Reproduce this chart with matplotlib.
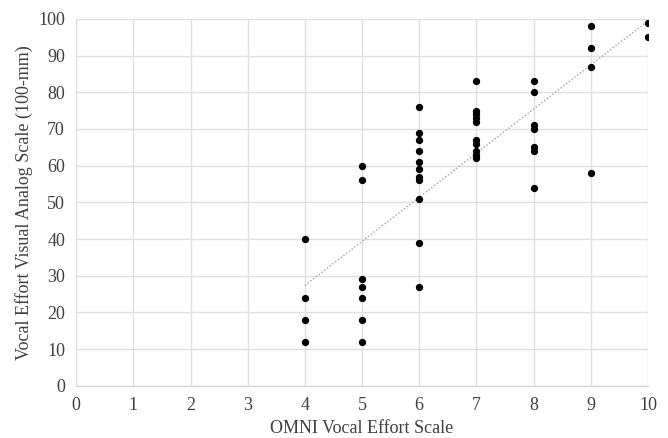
import numpy as np
import matplotlib.pyplot as plt

plt.rcParams['font.family'] = ['Liberation Serif', 'DejaVu Serif']

# OMNI score -> VAS values
omni_4 = [40, 24, 18, 12]
omni_5 = [60, 56, 29, 27, 24, 18, 12]
omni_6 = [76, 69, 67, 64, 61, 59, 57, 56, 51, 39, 27]
omni_7 = [83, 75, 74, 73, 72, 67, 66, 64, 63, 62]
omni_8 = [83, 80, 71, 70, 65, 64, 54]
omni_9 = [98, 92, 87, 58]
omni_10 = [99, 95]

groups = {4: omni_4, 5: omni_5, 6: omni_6, 7: omni_7, 8: omni_8, 9: omni_9, 10: omni_10}
x = np.concatenate([[k] * len(v) for k, v in groups.items()])
y = np.concatenate([v for v in groups.values()])

fig, ax = plt.subplots(figsize=(6.68, 4.38), dpi=100)
fig.subplots_adjust(left=0.114, right=0.970, bottom=0.119, top=0.957)

ax.scatter(x, y, s=18, color='black', zorder=3)

# linear trend line
m, b = np.polyfit(x, y, 1)
xs = np.array([x.min(), x.max()])
ax.plot(xs, m * xs + b, linestyle=(0, (1, 1.5)), color='#a0a0a0', linewidth=1.0, zorder=2)

ax.set_xlim(0, 10)
ax.set_ylim(0, 100)
ax.set_xticks(range(0, 11))
ax.set_yticks(range(0, 101, 10))
ax.grid(True, color='#e0e0e0', linewidth=1.0)
ax.set_axisbelow(True)
for s in ['top', 'right', 'left']:
    ax.spines[s].set_visible(False)
ax.spines['bottom'].set_color('#d0d0d0')
ax.tick_params(length=0, labelsize=13, colors='#404040', pad=8)

ax.set_xlabel('OMNI Vocal Effort Scale', fontsize=13, color='#404040')
ax.set_ylabel('Vocal Effort Visual Analog Scale (100-mm)', fontsize=13, color='#404040')

fig.savefig('out.png')
